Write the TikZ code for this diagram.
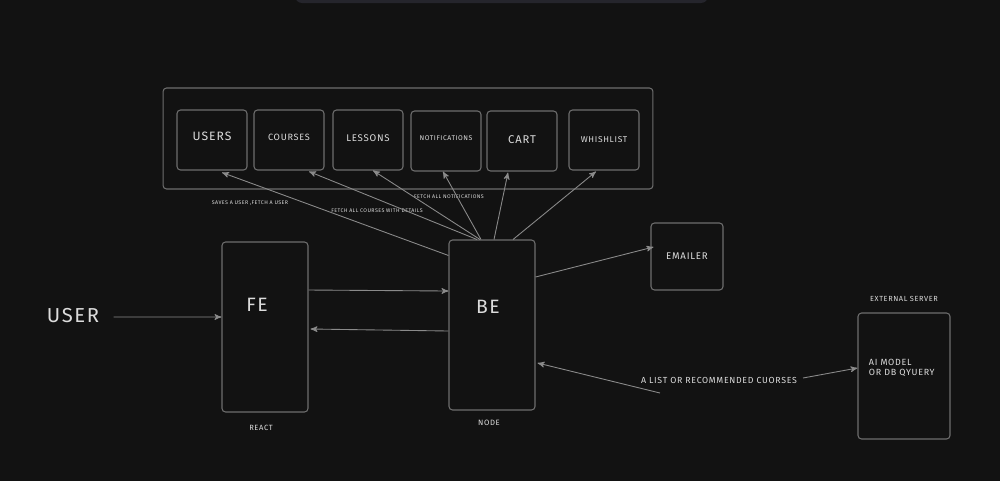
\documentclass[tikz,border=0pt]{standalone}
\usepackage{fontspec}
\setmainfont[LetterSpace=8]{Fira Sans}
\usepackage{tikz}
\usetikzlibrary{arrows}
\definecolor{canvas}{HTML}{121212}
\definecolor{toolbar}{HTML}{25252C}
\definecolor{edge}{HTML}{6E6E6E}
\definecolor{wire}{HTML}{8A8A8A}
\definecolor{ink}{HTML}{DCDCDC}
\tikzset{
  TextNode/.style = {align=center, inner sep=0pt, text=ink},
  BoxNode/.style = {draw = edge, rounded corners=2pt, line width=0.6pt, inner sep=0pt, text=ink},
  TableNode/.style = {BoxNode, minimum width=1.4cm, minimum height=1.2cm},
  TierNode/.style = {BoxNode, minimum width=1.72cm, minimum height=3.4cm},
  TinyText/.style = {TextNode, font=\fontsize{3.0}{3.4}\selectfont}
}
\begin{document}
\begin{tikzpicture}[x=0.02cm, y=-0.02cm, ->, >=stealth', wire, line width=0.5pt]
  \fill[canvas] (0,0) rectangle (1000,481);
  \useasboundingbox (0,0) rectangle (1000,481);
  \fill[toolbar, rounded corners=4pt] (295,-12) rectangle (708,3);

  % tables
  \node [BoxNode, minimum width=9.8cm, minimum height=2.02cm] (db) at (408,138.5) {};
  \node [TableNode, font=\fontsize{6.9}{7.5}\selectfont] (users) at (212,140) {\raisebox{4pt}{USERS}};
  \node [TableNode, font=\fontsize{5.2}{6}\selectfont] (courses) at (289,140) {\raisebox{3pt}{COURSES}};
  \node [TableNode, font=\fontsize{5.5}{6}\selectfont] (lessons) at (368,140) {\raisebox{2pt}{LESSONS}};
  \node [TableNode, font=\fontsize{3.9}{4.5}\selectfont] (notif) at (446,141) {\raisebox{3pt}{NOTIFICATIONS}};
  \node [TableNode, font=\fontsize{6.4}{7}\selectfont] (cart) at (522,141) {\raisebox{2pt}{CART}};
  \node [TableNode, font=\fontsize{4.8}{5.5}\selectfont] (wish) at (604,140) {WHISHLIST};

  % tiers
  \node [TextNode, font=\fontsize{11.5}{13}\selectfont] (user) at (73,316) {USER};
  \node [TierNode, label={[TextNode, font=\fontsize{11}{12}\selectfont, xshift=-0.16cm, yshift=-1.4cm]north:FE},
         label={[TextNode, font=\fontsize{4.3}{5}\selectfont, xshift=-0.08cm, yshift=-0.24cm]south:REACT}] (fe) at (265,327) {};
  \node [TierNode, label={[TextNode, font=\fontsize{11}{12}\selectfont, xshift=-0.08cm, yshift=-1.49cm]north:BE},
         label={[TextNode, font=\fontsize{4.4}{5}\selectfont, xshift=-0.06cm, yshift=-0.18cm]south:NODE}] (be) at (492,325) {};
  \node [BoxNode, minimum width=1.44cm, minimum height=1.34cm, font=\fontsize{5.5}{6}\selectfont] (emailer) at (687,256.5) {EMAILER};
  \node [BoxNode, minimum width=1.84cm, minimum height=2.52cm,
         label={[TextNode, align=left, anchor=west, xshift=0.22cm, yshift=0.16cm, font=\fontsize{5.1}{5.8}\selectfont]west:AI MODEL\\OR DB QYUERY},
         label={[TextNode, font=\fontsize{4.2}{5}\selectfont, yshift=0.2cm]north:EXTERNAL SERVER}] (ai) at (904,376) {};

  % labels
  \node [TinyText] (saves) at (250,203) {SAVES A USER ,FETCH A USER};
  \node [TinyText] (fetchc) at (377,211) {FETCH ALL COURSES WITH DETAILS};
  \node [TinyText] (fetchn) at (449,197) {FETCH ALL NOTIFICATIONS};
  \node [TextNode, font=\fontsize{5.0}{6}\selectfont] (rec) at (719,380) {A LIST OR RECOMMENDED CUORSES};
  \coordinate (recA) at (660,393);
  \coordinate (recB) at (803,378);

  % connectors
  \draw ([yshift=-0.32cm]be.north west) -- ([xshift=0.2cm, yshift=-0.04cm]users.south);
  \draw ([xshift=-0.3cm]be.north) -- ([xshift=0.4cm, yshift=-0.02cm]courses.south);
  \draw ([xshift=-0.24cm]be.north) -- ([xshift=0.1cm]lessons.south);
  \draw ([xshift=-0.22cm]be.north) -- ([xshift=-0.06cm]notif.south);
  \draw ([xshift=0.04cm]be.north) -- ([xshift=-0.28cm, yshift=-0.02cm]cart.south);
  \draw ([xshift=0.42cm]be.north) -- ([xshift=-0.16cm, yshift=-0.02cm]wish.south);
  \draw ([xshift=0.28cm, yshift=-0.02cm]user.east) -- ([yshift=0.2cm]fe.west);
  \draw ([yshift=0.74cm]fe.east) -- ([yshift=0.68cm]be.west);
  \draw ([yshift=-0.12cm]be.west) -- ([xshift=0.04cm, yshift=-0.04cm]fe.east);
  \draw ([yshift=0.96cm]be.east) -- ([xshift=0.06cm, yshift=0.19cm]emailer.west);
  \draw (recA) -- ([xshift=0.04cm, yshift=-0.76cm]be.east);
  \draw (recB) -- ([yshift=0.16cm]ai.west);
\end{tikzpicture}
\end{document}
